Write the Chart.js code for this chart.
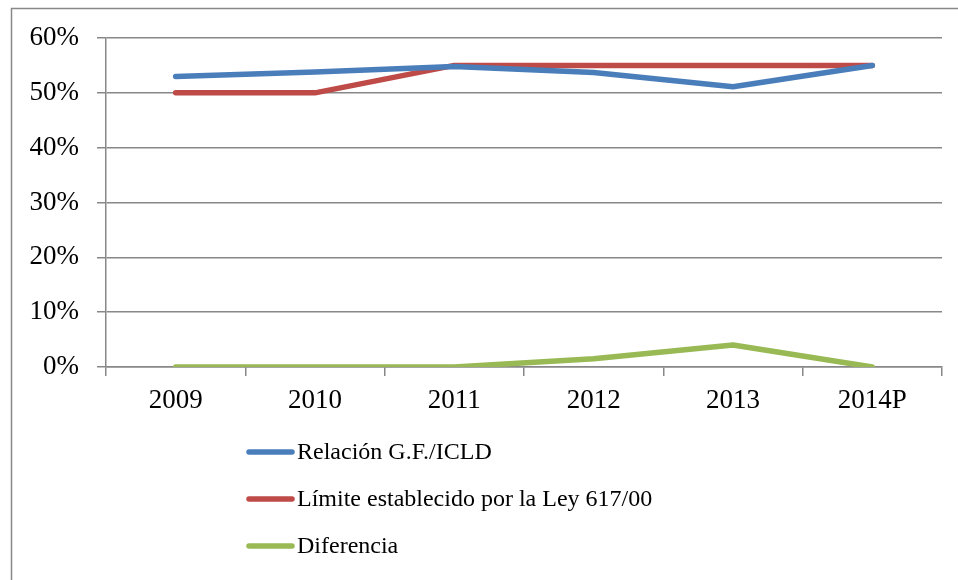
<!DOCTYPE html>
<html>
<head>
<meta charset="utf-8">
<script src="https://cdn.jsdelivr.net/npm/chart.js@4"></script>
<style>
    html, body { margin: 0; padding: 0; background: #fff; }
    #wrap { width: 958px; height: 580px; position: relative; }
</style>
</head>
<body>
<div id="wrap"><canvas id="chart" width="958" height="580"></canvas></div>
<script>
const years = ['2009', '2010', '2011', '2012', '2013', '2014P'];
const relacion = [53.0, 53.8, 54.8, 53.7, 51.1, 55.0];
const limite = [50, 50, 55, 55, 55, 55];
const diferencia = [0, 0, 0, 1.5, 4.0, 0];
const yTicks = [0, 10, 20, 30, 40, 50, 60];

const labels = ['Relación G.F./ICLD', 'Límite establecido por la Ley 617/00', 'Diferencia'];
const colors = ['#4A7EBB', '#BE4B48', '#98B954'];
const serif = '"Liberation Serif", "DejaVu Serif", serif';

// outer frame of the original picture (cut at right and bottom)
const frame = {
    id: 'frame',
    beforeDraw(chart) {
        const ctx = chart.ctx;
        ctx.save();
        ctx.fillStyle = '#fff';
        ctx.fillRect(0, 0, chart.width, chart.height);
        ctx.strokeStyle = '#888';
        ctx.lineWidth = 1.5;
        ctx.strokeRect(11.5, 8.5, 1000, 1000);
        ctx.restore();
    }
};

// legend stacked under the plot, one entry per row
const stackLegend = {
    id: 'stackLegend',
    afterDraw(chart) {
        const ctx = chart.ctx;
        const rows = [452, 499, 546];
        ctx.save();
        ctx.font = '24px ' + serif;
        ctx.textBaseline = 'middle';
        chart.data.datasets.forEach((ds, i) => {
            const y = rows[i];
            ctx.strokeStyle = ds.borderColor;
            ctx.lineWidth = 5.5;
            ctx.lineCap = 'round';
            ctx.beginPath();
            ctx.moveTo(249, y);
            ctx.lineTo(292, y);
            ctx.stroke();
            ctx.fillStyle = '#000';
            ctx.fillText(ds.label, 297, y + 1);
        });
        ctx.restore();
    }
};

const datasets = [relacion, limite, diferencia].map((d, i) => ({
    label: labels[i],
    data: d,
    borderColor: colors[i],
    backgroundColor: colors[i],
    borderWidth: 5.5,
    borderCapStyle: 'round',
    borderJoinStyle: 'round',
    pointRadius: 0,
    tension: 0,
    fill: false
}));

new Chart(document.getElementById('chart'), {
    type: 'line',
    data: { labels: years, datasets: datasets },
    options: {
        responsive: false,
        animation: false,
        layout: { padding: { left: 0, right: 16, top: 38, bottom: 163 } },
        plugins: {
            legend: { display: false },
            tooltip: { enabled: false }
        },
        scales: {
            x: {
                offset: true,
                afterFit(scale) { scale.height = 50; },
                grid: {
                    offset: true,
                    drawOnChartArea: false,
                    drawTicks: true,
                    tickLength: 9,
                    color: '#888',
                    lineWidth: 1.5
                },
                border: { display: true, color: '#888', width: 1.5 },
                ticks: {
                    color: '#000',
                    font: { family: serif, size: 27 },
                    padding: 9,
                    maxRotation: 0
                }
            },
            y: {
                min: 0,
                max: 60,
                afterFit(scale) { scale.width = 106; },
                afterBuildTicks(scale) { scale.ticks = yTicks.map(v => ({ value: v })); },
                grid: {
                    color: '#888',
                    lineWidth: 1.5,
                    tickLength: 9
                },
                border: { display: true, color: '#888', width: 1.5 },
                ticks: {
                    color: '#000',
                    font: { family: serif, size: 27 },
                    padding: 18,
                    callback: v => v + '%'
                }
            }
        }
    },
    plugins: [frame, stackLegend]
});
</script>
</body>
</html>
